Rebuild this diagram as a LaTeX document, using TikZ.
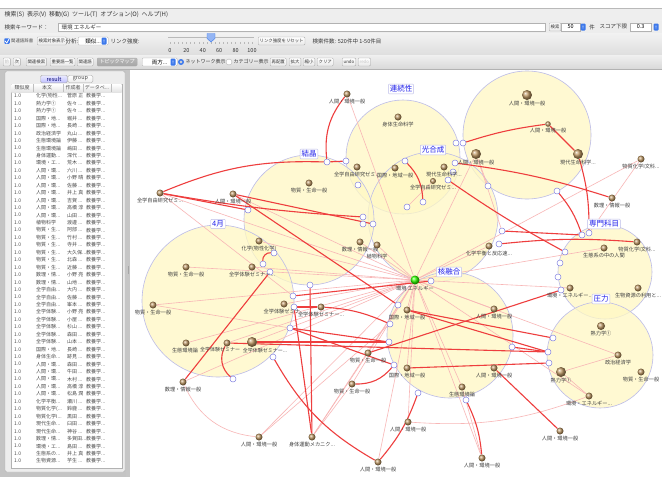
\documentclass[tikz,border=0pt]{standalone}
\usepackage{fontspec}
\setmainfont{Noto Sans CJK JP}
\usetikzlibrary{positioning}
\definecolor{cream}{RGB}{255,248,196}
\definecolor{lav}{RGB}{188,188,232}
\definecolor{tagblue}{RGB}{35,35,235}
\definecolor{portblue}{RGB}{130,130,225}
\definecolor{linkred}{RGB}{238,62,62}
\definecolor{linkpink}{RGB}{248,182,182}
\definecolor{doctan}{RGB}{190,152,100}
\definecolor{spinblue}{RGB}{60,120,235}
\definecolor{menugray}{RGB}{238,238,238}
\definecolor{panelgray}{RGB}{196,196,196}
\newcommand{\uisize}{\fontsize{5.5}{5.5}\selectfont}
\newcommand{\btnsize}{\fontsize{4.4}{4.4}\selectfont}
\newcommand{\trail}{...}
\pgfdeclarelayer{bg}
\pgfdeclarelayer{links}
\pgfsetlayers{bg,links,main}

\begin{document}
\begin{tikzpicture}[x=1pt, y=-1pt,
    ui/.style={font=\uisize, text=black!80, inner sep=0.5pt},
    btn/.style={draw=gray!65, top color=white, bottom color=gray!18, rounded corners=1pt,
      font=\btnsize, text=black!80, inner xsep=1.4pt, inner ysep=0pt, minimum height=8pt, anchor=west},
    field/.style={draw=gray!60, fill=white, font=\uisize, inner xsep=2pt, inner ysep=0pt,
      minimum height=8pt, anchor=west},
    spin/.style={fill=spinblue, rounded corners=1pt, minimum width=5pt, minimum height=7pt, inner sep=0pt,
      path picture={
        \fill[white] ([xshift=-1.3pt,yshift=0.5pt]path picture bounding box.center) -- ++(2.6pt,0pt) -- ++(-1.3pt,1.5pt) -- cycle;
        \fill[white] ([xshift=-1.3pt,yshift=-0.5pt]path picture bounding box.center) -- ++(2.6pt,0pt) -- ++(-1.3pt,-1.5pt) -- cycle;}},
    cell/.style={font=\fontsize{5}{5}\selectfont, text=black!70, anchor=west, inner sep=0pt},
    cluster/.style={draw=lav, line width=0.6pt, fill=cream, fill opacity=0.75},
    tag/.style={draw=lav, fill=white, text=tagblue, font=\fontsize{7.5}{7.5}\selectfont,
      inner sep=1.4pt, rounded corners=0.8pt},
    doc/.style={circle, inner sep=0pt, minimum size=7pt, ball color=doctan},
    bigdoc/.style={doc, minimum size=10pt},
    lbl/.style={font=\fontsize{5.2}{5.2}\selectfont, text=black!75, inner sep=0.8pt},
    port/.style={circle, draw=portblue, fill=white, inner sep=0pt, minimum size=6pt, line width=0.5pt},
    strong/.style={draw=linkred, line width=1.1pt},
    weak/.style={draw=linkpink, line width=0.6pt}]
% トピックマップ画面
\useasboundingbox (0,0) rectangle (662,477);
\begin{pgfonlayer}{bg}
\fill[white] (0,0) rectangle (662,477);
\draw[cluster] (527,135) circle[radius=64];
\draw[cluster] (403,157) circle[radius=57];
\draw[cluster] (433,217) circle[radius=65];
\draw[cluster] (309,220) circle[radius=65];
\draw[cluster] (218,301) circle[radius=76];
\draw[cluster] (450,335) circle[radius=63];
\draw[cluster] (605,272) circle[radius=47];
\draw[cluster] (600,355) circle[radius=53];
\end{pgfonlayer}

% ports on the cluster rims
\node[port] (q1) at (327,162) {};
\node[port] (q2) at (346,161) {};
\node[port] (q3) at (363,217) {};
\node[port] (q4) at (363,224) {};
\node[port] (q5) at (373,224) {};
\node[port] (q6) at (248,210) {};
\node[port] (q7) at (358,185) {};
\node[port] (q8) at (456,143) {};
\node[port] (q9) at (463,143) {};
\node[port] (q10) at (405,161) {};
\node[port] (q11) at (455,163) {};
\node[port] (q12) at (453,172) {};
\node[port] (q13) at (448,180) {};
\node[port] (q14) at (488,186) {};
\node[port] (q15) at (557,191) {};
\node[port] (q16) at (407,207) {};
\node[port] (q17) at (423,202) {};
\node[port] (q18) at (274,253) {};
\node[port] (q19) at (263,264) {};
\node[port] (q20) at (270,272) {};
\node[port] (q21) at (310,285) {};
\node[port] (q22) at (293,296) {};
\node[port] (q23) at (294,307) {};
\node[port] (q24) at (290,328) {};
\node[port] (q25) at (390,324) {};
\node[port] (q26) at (389,342) {};
\node[port] (q27) at (398,305) {};
\node[port] (q28) at (502,231) {};
\node[port] (q29) at (499,244) {};
\node[port] (q30) at (565,252) {};
\node[port] (q31) at (560,263) {};
\node[port] (q32) at (558,277) {};
\node[port] (q33) at (561,290) {};
\node[port] (q34) at (582,235) {};
\node[port] (q35) at (589,233) {};
\node[port] (q36) at (431,281) {};
\node[port] (q37) at (553,338) {};
\node[port] (q38) at (512,347) {};
\node[port] (q39) at (273,357) {};
\node[port] (q40) at (233,379) {};
\node[port] (q41) at (394,365) {};
\node[port] (q42) at (548,352) {};
\node[port] (q43) at (549,363) {};
\node[port] (q44) at (418,393) {};
\node[port] (q45) at (466,400) {};

% documents
\node[doc, label={[lbl]below:人間・環境一般}] (d1) at (347,94) {};
\node[doc, label={[lbl]below:全学自由研究ゼミ...}] (d2) at (160,193) {};
\node[doc, label={[lbl]below:人間・環境一般}] (d3) at (233,194) {};
\node[doc, label={[lbl]below:物質・生命一般}] (d4) at (309,183) {};
\node[doc, label={[lbl]below:全学自由研究ゼミ...}] (d5) at (357,167) {};
\node[doc, label={[lbl]below:身体生命科学}] (d6) at (398,117) {};
\node[doc, label={[lbl]below:国際・地域一般}] (d7) at (395,168) {};
\node[doc, label={[lbl]below:現代生命科学...}] (d8) at (444,167) {};
\node[doc, minimum size=6pt, label={[lbl]below:全学自由研究ゼミ...}] (d9) at (433,181) {};
\node[bigdoc, label={[lbl]below:人間・環境一般}] (d10) at (527,95) {};
\node[doc, minimum size=5.5pt, label={[lbl]below:人間・環境一般}] (d11) at (548,124) {};
\node[bigdoc, label={[lbl]below:人間・環境一般}] (d12) at (476,154) {};
\node[bigdoc, label={[lbl]below:現代生命科学...}] (d13) at (578,154) {};
\node[doc, label={[lbl]below:物質化学I文科...}] (d14) at (641,159) {};
\node[doc, label={[lbl]below:数理・情報一般}] (d15) at (612,198) {};
\node[doc, label={[lbl]below:化学(物性化学)}] (d16) at (259,241) {};
\node[doc, label={[lbl]below:物質・生命一般}] (d17) at (186,267) {};
\node[doc, label={[lbl]below:全学体験ゼミナー...}] (d18) at (252,267) {};
\node[doc, label={[lbl]below:物質・生命一般}] (d19) at (153,305) {};
\node[doc, label={[lbl]below:全学体験ゼミナ...}] (d20) at (284,304) {};
\node[doc, label={[lbl]below:全学体験ゼミナー...}] (d21) at (321,307) {};
\node[doc, label={[lbl]below:数理・情報一般}] (d22) at (360,242) {};
\node[doc, label={[lbl, yshift=-4pt]below:植物科学}] (d23) at (377,245) {};
\node[doc, label={[lbl, xshift=-1pt]below:生態環境論}] (d24) at (186,343) {};
\node[doc, label={[lbl, xshift=-7pt, font=\fontsize{5}{5}\selectfont]below:全学体験ゼミナー}] (d25) at (227,343) {};
\node[bigdoc, label={[lbl, xshift=13pt, font=\fontsize{5}{5}\selectfont]below:全学体験ゼミナー...}] (d26) at (252,342) {};
\node[doc, label={[lbl]below:数理・情報一般}] (d27) at (183,382) {};
\node[doc, label={[lbl]below:人間・環境一般}] (d28) at (259,437) {};
\node[doc, label={[lbl]below:身体運動メカニク...}] (d29) at (312,437) {};
\node[doc, label={[lbl]below:人間・環境一般}] (d30) at (378,462) {};
\node[doc, label={[lbl]below:物質・生命一般}] (d31) at (368,353) {};
\node[doc, label={[lbl]below:物質・生命一般}] (d32) at (352,384) {};
\node[doc, label={[lbl]below:人間・環境一般}] (d33) at (408,422) {};
\node[doc, label={[lbl]below:化学平衡と反応速...}] (d34) at (489,246) {};
\node[doc, label={[lbl]below:物質化学I文科...}] (d35) at (637,242) {};
\node[doc, label={[lbl]below:生態系の中の人間}] (d36) at (604,248) {};
\node[doc, label={[lbl]below:環境・エネルギー...}] (d37) at (570,288) {};
\node[doc, label={[lbl]below:生物資源の利用と...}] (d38) at (638,288) {};
\node[doc, minimum size=8pt, label={[lbl]below:熱力学①}] (d39) at (601,326) {};
\node[doc, label={[lbl]below:国際・地域一般}] (d40) at (407,310) {};
\node[doc, label={[lbl]below:人間・環境一般}] (d41) at (494,309) {};
\node[doc, label={[lbl]below:国際・地域一般}] (d42) at (407,368) {};
\node[doc, label={[lbl]below:人間・環境一般}] (d43) at (494,368) {};
\node[doc, label={[lbl]below:生態環境論}] (d44) at (462,387) {};
\node[doc, label={[lbl]below:政治経済学}] (d45) at (618,355) {};
\node[bigdoc, label={[lbl]below:熱力学①}] (d46) at (561,372) {};
\node[doc, label={[lbl]below:物質・生命一般}] (d47) at (641,372) {};
\node[doc, label={[lbl]below:環境・エネルギー...}] (d48) at (589,396) {};
\node[doc, label={[lbl]below:人間・環境一般}] (d49) at (560,431) {};
\node[doc, label={[lbl]below:人間・環境一般}] (d50) at (482,458) {};
\node[circle, inner sep=0pt, minimum size=9pt, ball color=green!75!lime,
  label={[lbl]below:環境 エネルギー}] (c) at (415,280) {};

% cluster names
\node[tag] (tRenzoku) at (401,89) {連続性};
\node[tag] (tKogo) at (433,150) {光合成};
\node[tag] (tKessho) at (309,154) {結晶};
\node[tag] (tShigatsu) at (218,224) {4月};
\node[tag] (tKaku) at (449,272) {核融合};
\node[tag] (tSenmon) at (604,224) {専門科目};
\node[tag] (tAtsu) at (601,299) {圧力};

\begin{pgfonlayer}{links}
\foreach \d in {d1,d2,d3,d12,d14,d16,d17,d18,d19,d20,d22,d23,d24,d25,d26,d27,d28,d29,d30,
    d31,d32,d33,d34,d36,d37,d40,d41,d42,d44,d45,d48,d50}
  \draw[weak] (c) -- (\d);
\draw[weak] (d27) to[bend right=30] (d28);
\draw[weak] (d33) to[bend right=12] (d48);
\draw[weak] (d44) -- (d50);
\draw[weak] (d29) -- (d31);
\draw[weak] (d29) -- (d32);
\draw[weak] (d28) -- (q25);
\draw[weak] (d45) -- (d46);
\draw[weak] (d46) -- (d48);
\draw[weak] (d14) -- (q35);
\draw[weak] (d12) -- (q14);
\draw[weak] (d19) -- (q24);
\draw[weak] (d9) -- (q16);
\draw[weak] (d12) -- (q28);
\draw[weak] (d2) -- (q22);

\draw[strong] (d2) to[bend left=12] (q1);
\draw[strong] (q1) -- (q2);
\draw[strong] (q1) to[bend left=22] (d1);
\draw[strong] (d2) to[bend right=3] (q3);
\draw[strong] (d2) -- (q6);
\draw[strong] (d3) -- (q5);
\draw[strong] (d3) -- (q27);
\draw[strong] (q19) to[bend left=50] (q18);
\draw[strong] (q9) to[bend left=5] (d11);
\draw[strong] (d11) -- (d13);
\draw[strong] (d13) to[bend left=8] (q35);
\draw[strong] (q11) to[bend left=5] (d15);
\draw[strong] (q13) to[bend right=3] (q30);
\draw[strong] (q10) to[bend left=20] (q17);
\draw[strong] (q15) to[bend left=10] (q34);
\draw[strong] (q28) -- (q34);
\draw[strong] (q29) to[bend left=5] (d35);
\draw[strong] (q33) -- (d31);
\draw[strong] (d27) -- (q20);
\draw[strong] (q23) -- (d21);
\draw[strong] (d21) to[bend left=10] (q25);
\draw[strong] (q22) -- (q36);
\draw[strong] (q24) -- (q26);
\draw[strong] (q24) -- (q41);
\draw[strong] (d26) -- (q26);
\draw[strong] (d25) -- (q42);
\draw[strong] (d25) to[bend right=40] (q40);
\draw[strong] (q39) to[bend right=15] (d30);
\draw[strong] (d29) -- (q21);
\draw[strong] (d29) -- (q23);
\draw[strong] (d32) to[bend right=25] (q41);
\draw[strong] (d30) to[bend right=10] (q44);
\draw[strong] (q45) to[bend left=10] (d50);
\draw[strong] (d43) -- (d49);
\draw[strong] (q38) -- (q42);
\draw[strong] (q43) -- (d42);
\draw[strong] (q42) -- (d40);
\draw[strong] (d40) -- (q37);
\end{pgfonlayer}

% menu, search rows, toolbar
\fill[menugray] (0,9) rectangle (662,21);
\draw[gray!55] (0,8) -- (662,8);
\node[ui, anchor=west, font=\fontsize{6}{6}\selectfont] (menu) at (4,15)
  {検索(S)\ \ 表示(V)\ \ 移動(G)\ \ ツール(T)\ \ オプション(O)\ \ ヘルプ(H)};
\fill[gray!14] (0,21) rectangle (662,33);
\node[ui, anchor=west] (kwlabel) at (4,27) {検索キーワード：};
\draw[gray!60, fill=white] (58,23) rectangle (545,31);
\node[ui, anchor=west] (kw) at (61,27) {環境 エネルギー};
\node[btn] (bSearch) at (549,27) {検索};
\node[field, minimum width=19pt] (fNum) at (561,27) {50};
\node[spin] (sNum) at (583,27) {};
\node[ui] (ken) at (592,27) {件};
\node[ui, anchor=west] (score) at (599,27) {スコア下限};
\node[field, minimum width=21pt] (fScore) at (630,27) {0.3};
\node[spin] (sScore) at (656,27) {};

\shade[top color=gray!10, bottom color=gray!26] (0,33) rectangle (662,55);
\node[fill=spinblue, rounded corners=0.8pt, minimum size=5.5pt, inner sep=0pt] (chk) at (7,41) {};
\draw[white, line width=0.8pt] (5,41) -- (6.8,43) -- (9.3,38.5);
\node[cell, font=\fontsize{4.4}{4.4}\selectfont] (dict) at (11,41) {関連語辞書};
\node[btn] (bTarget) at (37,41) {検索対象表示};
\node[ui, anchor=west] (bunseki) at (65,41) {分析:};
\node[field, minimum width=30pt, rounded corners=1pt] (fKind) at (78,41) {類似...};
\node[spin] (sKind) at (104,41) {};
\node[ui, anchor=west] (link) at (110,41) {リンク強度:};
\draw[gray!55, line width=1pt] (168,37) -- (254,37);
\foreach \t in {0,...,20}
  \draw[gray!55, line width=0.3pt] (170+4.1*\t,42) -- (170+4.1*\t,44);
\filldraw[fill=spinblue!55, draw=spinblue] (207,33.5) -- (215,33.5) -- (215,38.5) -- (211,42) -- (207,38.5) -- cycle;
\foreach \v [count=\k] in {0,20,40,60,80,100}
  \node[ui] at (170+16.4*\k-16.4,51) {\v};
\node[btn] (bReset) at (258,41) {リンク強度をリセット};
\node[ui, anchor=west] (hits) at (312,41) {検索件数: 520件中 1-50件目};

\shade[top color=gray!12, bottom color=gray!30] (0,55) rectangle (662,69);
\draw[gray!60] (0,69) -- (662,69);
\node[btn, text=gray!50] (bPrev) at (3,62) {前};
\node[btn] (bNext) at (13,62) {次};
\node[btn] (bRel) at (26,62) {関連検索};
\node[btn] (bKey) at (50,62) {重要語一覧};
\node[btn] (bWord) at (77,62) {関連語};
\node[btn, top color=gray!55, bottom color=gray!70, text=white, minimum width=40pt,
  font=\fontsize{5}{5}\selectfont] (bTopic) at (97,62) {トピックマップ};
\node[field, minimum width=35pt, rounded corners=1pt] (fBoth) at (142,62) {両方...};
\node[spin] (sBoth) at (173,62) {};
\node[circle, fill=spinblue, minimum size=6pt, inner sep=0pt] (rNet) at (181,62) {};
\node[circle, fill=white, minimum size=2.6pt, inner sep=0pt] at (rNet) {};
\node[circle, fill=black!70, minimum size=1.4pt, inner sep=0pt] at (rNet) {};
\node[ui, anchor=west, font=\fontsize{5}{5}\selectfont] (tNet) at (185,62) {ネットワーク表示};
\node[circle, draw=gray!60, fill=white, minimum size=6pt, inner sep=0pt] (rCat) at (229,62) {};
\node[ui, anchor=west, font=\fontsize{5}{5}\selectfont] (tCat) at (233,62) {カテゴリー表示};
\node[btn] (bRe) at (270,62) {再配置};
\node[btn] (bZin) at (289,62) {拡大};
\node[btn] (bZout) at (303,62) {縮小};
\node[btn] (bClr) at (317,62) {クリア};
\node[btn] (bUndo) at (342,62) {undo};
\node[btn, text=gray!45] (bRedo) at (358,62) {redo};

% result panel
\fill[panelgray] (0,70) rectangle (126,477);
\fill[gray!45] (126,70) rectangle (130,477);
\draw[gray!70] (128,266) -- (128,274);
\draw[gray!60, fill=gray!14, rounded corners=2pt] (5,71) rectangle (125,472);
\node[draw=gray!65, top color=blue!8, bottom color=blue!25, rounded corners=1.5pt,
  font=\fontsize{5.5}{5.5}\selectfont, text=blue!45!black, minimum width=27pt, minimum height=7.5pt,
  inner sep=0pt] (result) at (54,79) {result};
\node[draw=gray!65, top color=white, bottom color=gray!15, rounded corners=1.5pt,
  font=\fontsize{5.5}{5.5}\selectfont, text=black!70, minimum width=25pt, minimum height=7.5pt,
  inner sep=0pt, right=0pt of result] (group) {group};
\draw[gray!60, fill=white] (11,84) rectangle (122,468);
\shade[top color=white, bottom color=gray!22] (11.3,84.3) rectangle (121.7,92);
\foreach \x in {33,63,83,111}
  \draw[gray!50] (\x,84.3) -- (\x,92);
\node[cell, anchor=center] (h1) at (22,88) {類似度};
\node[cell, anchor=center] (h2) at (47,88) {本文};
\node[cell, anchor=center] (h3) at (73,88) {作成者};
\node[cell, anchor=center] (h4) at (97,88) {データベ\trail};
\foreach \b/\a [count=\i] in {化学(物性\trail/菅原 正, 熱力学①/佐々 \trail, 熱力学①/佐々 \trail,
    国際・地\trail/堀井 \trail, 国際・地\trail/長崎 \trail, 政治経済学/丸山 \trail, 生態環境論/伊藤 \trail,
    生態環境論/嶋田 \trail, 身体運動\trail/深代 \trail, 環境・エ\trail/荒木 \trail, 人間・環\trail/六川 \trail,
    人間・環\trail/小野 晴, 人間・環\trail/佐藤 \trail, 人間・環\trail/井上 真, 人間・環\trail/吉賀 \trail,
    人間・環\trail/高橋 淳, 人間・環\trail/山田 \trail, 植物科学/渡邊 \trail, 物質・生\trail/阿部 \trail,
    物質・生\trail/竹村 \trail, 物質・生\trail/寺井 \trail, 物質・生\trail/大久保\trail, 物質・生\trail/北森 \trail,
    物質・生\trail/近藤 \trail, 数理・情\trail/小野 亮, 数理・情\trail/山地 \trail, 全学自由\trail/大内 \trail,
    全学自由\trail/佐藤 \trail, 全学自由\trail/峯本 \trail, 全学体験\trail/小野 亮, 全学体験\trail/小屋 \trail,
    全学体験\trail/杉山 \trail, 全学体験\trail/森田 \trail, 全学体験\trail/山本 \trail, 国際・地\trail/長崎 \trail,
    身体生命\trail/跡見 \trail, 人間・環\trail/森田 \trail, 人間・環\trail/牛田 \trail, 人間・環\trail/木村 \trail,
    人間・環\trail/高橋 淳, 人間・環\trail/松島 潤, 化学平衡\trail/瀬川 \trail, 物質化学(\trail/鈴鹿 \trail,
    物質化学I\trail/黒田 \trail, 現代生命\trail/臼田 \trail, 現代生命\trail/神谷 \trail, 数理・情\trail/多賀田\trail,
    環境・エ\trail/島田 \trail, 生態系の\trail/井上 真, 生物資源\trail/芋生 \trail} {
  \node[cell] at (14,{96+7.45*(\i-1)}) {1.0};
  \node[cell] at (36,{96+7.45*(\i-1)}) {\b};
  \node[cell] at (67,{96+7.45*(\i-1)}) {\a};
  \node[cell] at (86,{96+7.45*(\i-1)}) {教養学\trail};
}
\end{tikzpicture}
\end{document}
